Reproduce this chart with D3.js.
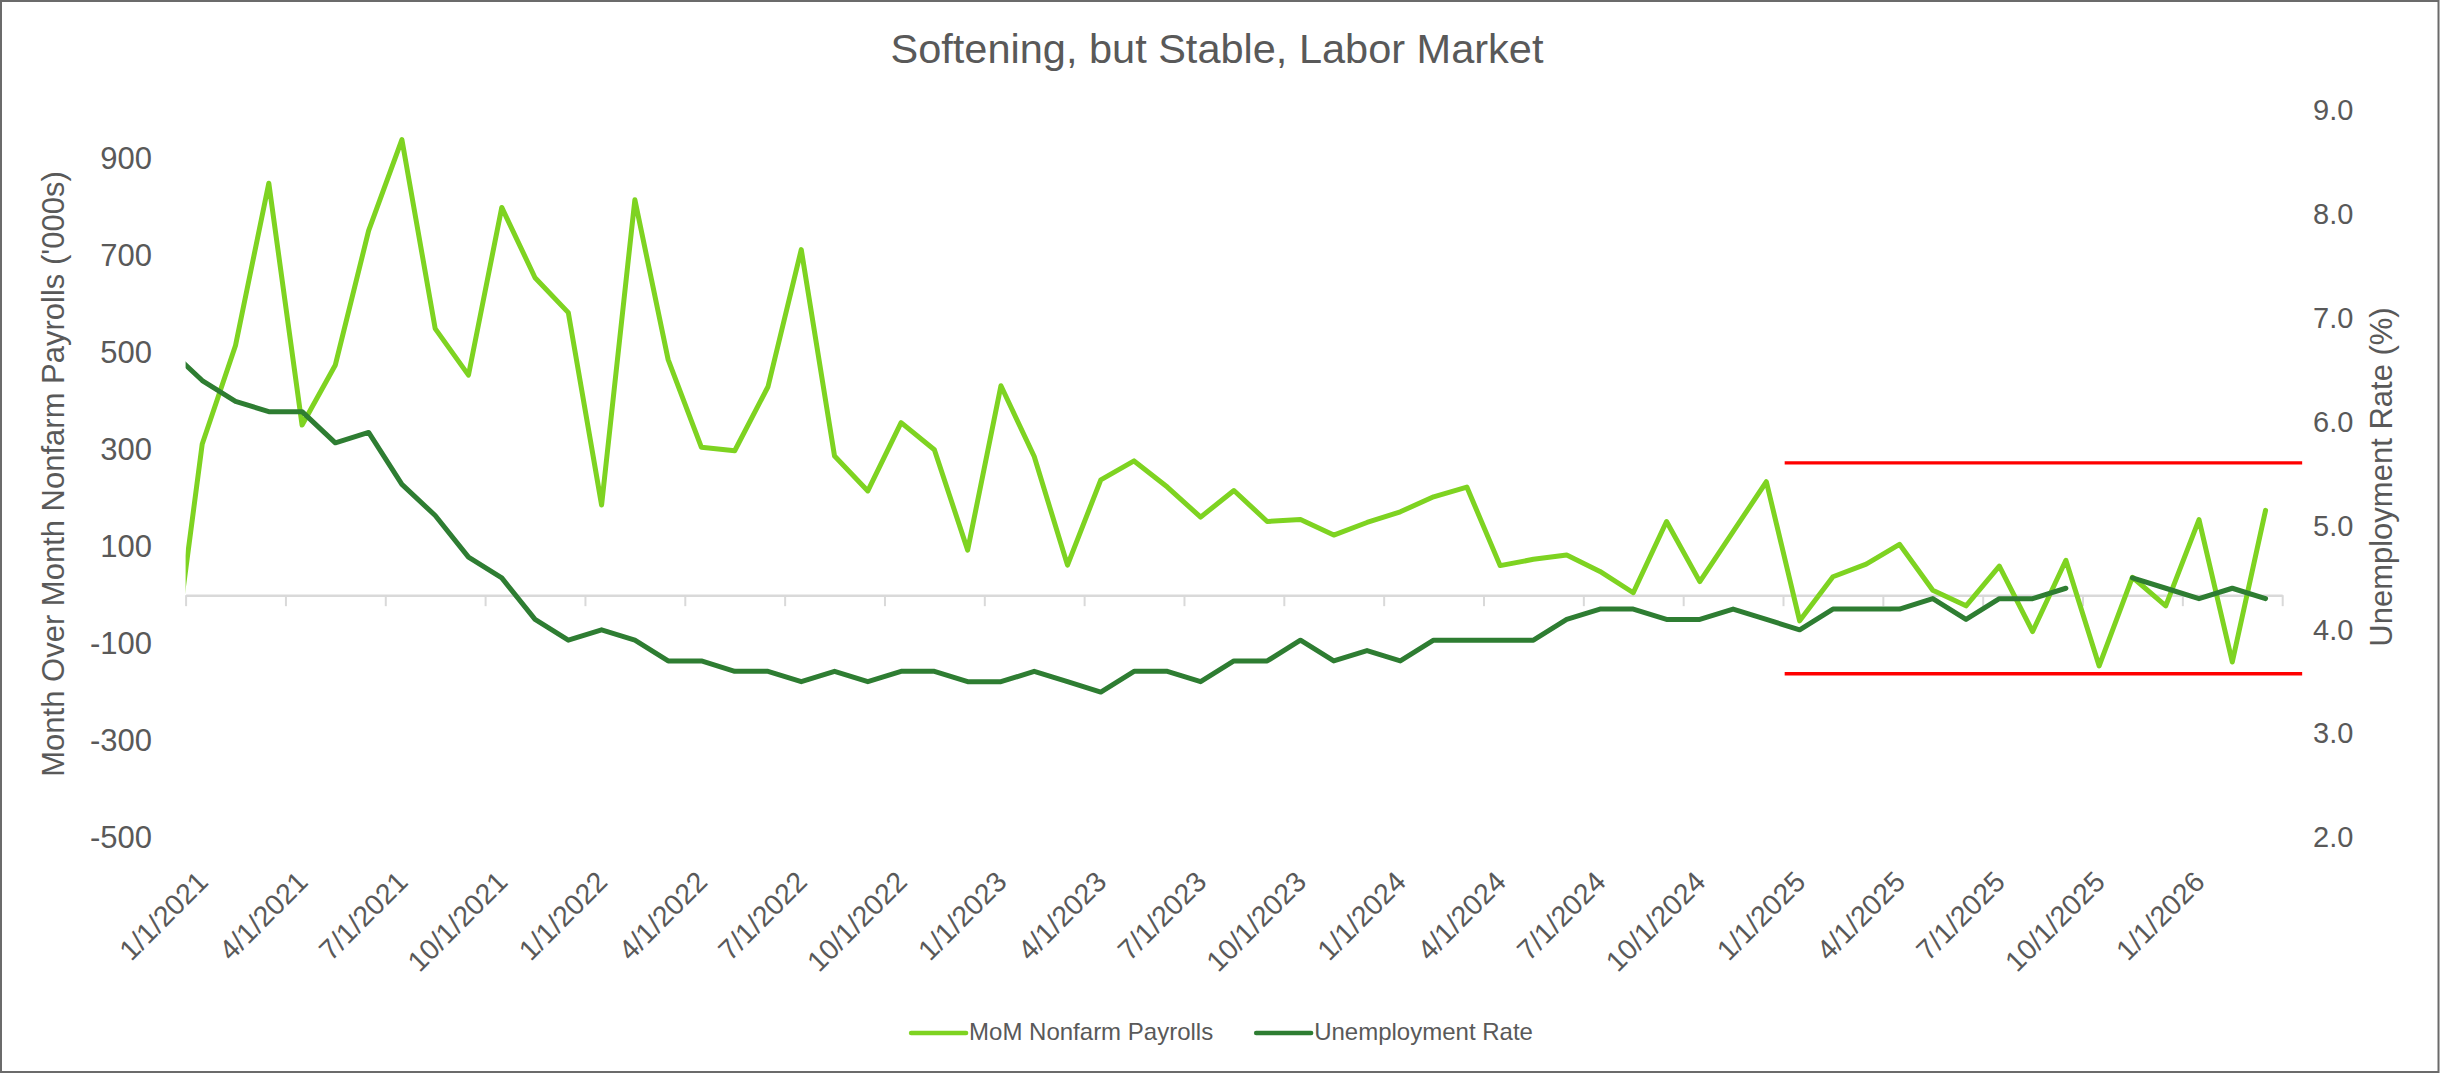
<!DOCTYPE html>
<html>
<head>
<meta charset="utf-8">
<script src="https://cdn.jsdelivr.net/npm/d3@7"></script>
<style>
  body { margin: 0; background: #ffffff; }
  text { font-family: "Liberation Sans", Arial, Helvetica, sans-serif; fill: #595959; }
</style>
</head>
<body>
<svg id="chart" width="2440" height="1074"></svg>
<script>
// Monthly series, December 2020 through March 2026
const seriesStart = new Date(2020, 11, 1);
const seriesEnd = new Date(2026, 3, 1);

// Month-over-month change in nonfarm payrolls ('000s)
const payrolls = [
  -210,
  312, 515, 850, 351, 475, 752, 940, 550, 454, 800, 655, 583,
  186, 816, 486, 305, 298, 430, 713, 287, 215, 356, 300, 93,
  432, 286, 62, 238, 277, 223, 161, 216, 152, 156, 124, 150,
  172, 203, 223, 61, 74, 83, 49, 5, 152, 28, 131, 234,
  -53, 38, 64, 105, 10, -22, 60, -75, 72, -146, 37, -22,
  156, -138, 175
];

// Unemployment rate (%); October 2025 was not published
const unemployment = [
  6.7,
  6.4, 6.2, 6.1, 6.1, 5.8, 5.9, 5.4, 5.1, 4.7, 4.5, 4.1, 3.9,
  4.0, 3.9, 3.7, 3.7, 3.6, 3.6, 3.5, 3.6, 3.5, 3.6, 3.6, 3.5,
  3.5, 3.6, 3.5, 3.4, 3.6, 3.6, 3.5, 3.7, 3.7, 3.9, 3.7, 3.8,
  3.7, 3.9, 3.9, 3.9, 3.9, 4.1, 4.2, 4.2, 4.1, 4.1, 4.2, 4.1,
  4.0, 4.2, 4.2, 4.2, 4.3, 4.1, 4.3, 4.3, 4.4, null, 4.5, 4.4,
  4.3, 4.4, 4.3
];

// Quarterly category labels (month offset from January 2021)
const labelMonths = [0, 3, 6, 9, 12, 15, 18, 21, 24, 27, 30, 33, 36, 39, 42, 45, 48, 51, 54, 57, 60];
const tickLabels = [
  "1/1/2021", "4/1/2021", "7/1/2021", "10/1/2021",
  "1/1/2022", "4/1/2022", "7/1/2022", "10/1/2022",
  "1/1/2023", "4/1/2023", "7/1/2023", "10/1/2023",
  "1/1/2024", "4/1/2024", "7/1/2024", "10/1/2024",
  "1/1/2025", "4/1/2025", "7/1/2025", "10/1/2025",
  "1/1/2026"
];
const tickMarkMonths = [0, 3, 6, 9, 12, 15, 18, 21, 24, 27, 30, 33, 36, 39, 42, 45, 48, 51, 54, 57, 60, 63];

const leftTicks = [-500, -300, -100, 100, 300, 500, 700, 900];
const rightTicks = [2, 3, 4, 5, 6, 7, 8, 9];

// Range band drawn over the recent period (payroll units, month offsets)
const bandLevels = [273, -162];
const bandMonths = [48.05, 63.6];

const seriesNames = ["MoM Nonfarm Payrolls", "Unemployment Rate"];
const seriesColors = ["#7ED321", "#2E7D32"];

// ---------------------------------------------------------------
const months = d3.timeMonth.range(seriesStart, seriesEnd);
const firstPlotted = new Date(2021, 0, 1);
const monthOffset = d => (d.getFullYear() - firstPlotted.getFullYear()) * 12 + d.getMonth() - firstPlotted.getMonth();

const svg = d3.select("#chart");
const W = 2440, H = 1074;
const plot = { left: 185.6, right: 2282.2, top: 110.5, bottom: 837.5 };

// Month offsets; each month occupies one unit, value drawn at its centre
const x = d3.scaleLinear().domain([0, 63]).range([plot.left, plot.right]);
const yL = d3.scaleLinear().domain([-500, 1000]).range([plot.bottom, plot.top]);
const yR = d3.scaleLinear().domain([2, 9]).range([plot.bottom, plot.top]);

svg.append("rect").attr("x", 0).attr("y", 0).attr("width", W).attr("height", H).attr("fill", "#fff");

// Title
svg.append("text")
  .attr("x", 1217).attr("y", 63)
  .attr("text-anchor", "middle")
  .style("font-size", "41.5px")
  .text("Softening, but Stable, Labor Market");

// Left axis labels (plain hyphen for negatives)
const gLeft = svg.append("g").attr("transform", "translate(152,0)")
  .call(d3.axisLeft(yL).tickValues(leftTicks).tickFormat(d => String(d)).tickSize(0).tickPadding(0));
gLeft.select(".domain").remove();
gLeft.selectAll("text").style("font-size", "31px").style("fill", "#595959").style("font-family", null);

// Right axis labels
const gRight = svg.append("g").attr("transform", "translate(2313,0)")
  .call(d3.axisRight(yR).tickValues(rightTicks).tickFormat(d => d.toFixed(1)).tickSize(0).tickPadding(0));
gRight.select(".domain").remove();
gRight.selectAll("text").style("font-size", "29px").style("fill", "#595959").style("font-family", null);

// Axis titles
svg.append("text")
  .attr("transform", "translate(64,474) rotate(-90)")
  .attr("text-anchor", "middle")
  .style("font-size", "31px")
  .text("Month Over Month Nonfarm Payrolls ('000s)");

svg.append("text")
  .attr("transform", "translate(2392,477) rotate(-90)")
  .attr("text-anchor", "middle")
  .style("font-size", "31px")
  .text("Unemployment Rate (%)");

// Category axis at zero, with quarterly tick marks
const gX = svg.append("g").attr("transform", `translate(0,${yL(0)})`)
  .call(d3.axisBottom(x).tickValues(tickMarkMonths).tickSize(11).tickSizeOuter(0).tickFormat(""));
gX.select(".domain").attr("stroke", "#d9d9d9").attr("stroke-width", 2.5);
gX.selectAll(".tick line").attr("stroke", "#d9d9d9").attr("stroke-width", 2);

// Rotated category labels below the plot
const gXL = svg.append("g").attr("transform", "translate(7,883.5)")
  .call(d3.axisBottom(x).tickValues(labelMonths.map(m => m + 0.5))
    .tickFormat((d, i) => tickLabels[i]).tickSize(0).tickPadding(0));
gXL.select(".domain").remove();
gXL.selectAll("text")
  .attr("x", 0).attr("y", 0).attr("dy", 0)
  .attr("transform", "rotate(-45)")
  .style("text-anchor", "end")
  .style("font-size", "28.5px")
  .style("fill", "#595959")
  .style("font-family", null);

// Series lines, clipped to the plot area
svg.append("clipPath").attr("id", "plotClip")
  .append("rect").attr("x", plot.left).attr("y", 0)
  .attr("width", plot.right - plot.left).attr("height", H);

const gLines = svg.append("g").attr("clip-path", "url(#plotClip)");

const payrollLine = d3.line()
  .x((d, i) => x(monthOffset(months[i]) + 0.5))
  .y(d => yL(d));

const rateLine = d3.line()
  .defined(d => d != null)
  .x((d, i) => x(monthOffset(months[i]) + 0.5))
  .y(d => yR(d));

gLines.append("path").datum(payrolls)
  .attr("d", payrollLine)
  .attr("fill", "none").attr("stroke", seriesColors[0])
  .attr("stroke-width", 5).attr("stroke-linejoin", "round").attr("stroke-linecap", "round");

gLines.append("path").datum(unemployment)
  .attr("d", rateLine)
  .attr("fill", "none").attr("stroke", seriesColors[1])
  .attr("stroke-width", 5).attr("stroke-linejoin", "round").attr("stroke-linecap", "round");

// Range band guides
svg.append("g").selectAll("line").data(bandLevels).join("line")
  .attr("x1", x(bandMonths[0])).attr("x2", x(bandMonths[1]))
  .attr("y1", d => yL(d)).attr("y2", d => yL(d))
  .attr("stroke", "#FF0000").attr("stroke-width", 3.4);

// Legend
const legend = svg.append("g");
let lx = 0;
seriesNames.forEach((name, i) => {
  const item = legend.append("g").attr("transform", `translate(${lx},0)`);
  item.append("line").attr("x1", 0).attr("x2", 55).attr("y1", 0).attr("y2", 0)
    .attr("stroke", seriesColors[i]).attr("stroke-width", 4.5).attr("stroke-linecap", "round");
  const t = item.append("text").attr("x", 58).attr("y", 6.5)
    .style("font-size", "24px").text(name);
  lx += 58 + t.node().getComputedTextLength() + 43;
});
const legendWidth = lx - 43;
legend.attr("transform", `translate(${1222 - legendWidth / 2},1033)`);

// Chart border
svg.append("rect").attr("x", 1).attr("y", 1).attr("width", W - 2.5).attr("height", 1071)
  .attr("fill", "none").attr("stroke", "#6b6b6b").attr("stroke-width", 2);
</script>
</body>
</html>
